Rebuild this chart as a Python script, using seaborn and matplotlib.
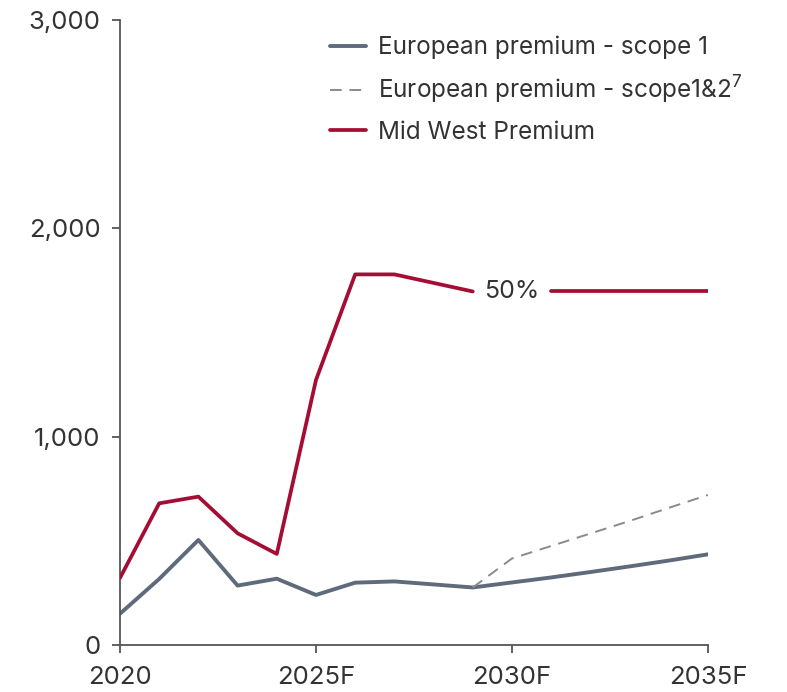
import matplotlib
matplotlib.use("Agg")
import matplotlib.pyplot as plt
import seaborn as sns
import pandas as pd

# ---- data ----
scope1_years = [2020, 2021, 2022, 2023, 2024, 2025, 2026, 2027, 2029, 2030, 2031, 2032, 2033, 2034, 2035]
scope1_vals = [150, 317, 504, 285, 318, 240, 299, 305, 276, 300, 324, 350, 377, 405, 435]

scope12_years = [2029, 2030, 2031, 2032, 2033, 2034, 2035]
scope12_vals = [276, 415, 475, 535, 595, 658, 720]

midwest_years_a = [2020, 2021, 2022, 2023, 2024, 2025, 2026, 2027, 2029]
midwest_vals_a = [322, 680, 712, 536, 437, 1272, 1779, 1779, 1697]
midwest_years_b = [2031, 2032, 2033, 2034, 2035]
midwest_vals_b = [1697, 1697, 1697, 1697, 1697]

x_ticks = [2020, 2025, 2030, 2035]
x_ticklabels = ["2020", "2025F", "2030F", "2035F"]
y_ticks = [0, 1000, 2000, 3000]
y_ticklabels = ["0", "1,000", "2,000", "3,000"]

label_s1 = "European premium - scope 1"
label_s12 = "European premium - scope1&2$^{7}$"
label_mw = "Mid West Premium"
annot = "50%"

# ---- style ----
sns.set_theme(style="white")
plt.rcParams["font.family"] = ["Inter", "DejaVu Sans"]
plt.rcParams["mathtext.fontset"] = "custom"
plt.rcParams["mathtext.rm"] = "Inter"
plt.rcParams["mathtext.default"] = "regular"

TEXT = "#333333"
AXC = "#555555"
RED = "#A50E34"
SLATE = "#5F6B7A"
GREY = "#8A8A8A"

fig = plt.figure(figsize=(7.87, 6.92), dpi=100)
ax = fig.add_axes([0.1525, 0.068, 0.747, 0.903])

df_s1 = pd.DataFrame({"year": scope1_years, "value": scope1_vals})
df_s12 = pd.DataFrame({"year": scope12_years, "value": scope12_vals})
df_mwa = pd.DataFrame({"year": midwest_years_a, "value": midwest_vals_a})
df_mwb = pd.DataFrame({"year": midwest_years_b, "value": midwest_vals_b})

sns.lineplot(data=df_mwa, x="year", y="value", ax=ax, color=RED, lw=2.7, label=label_mw, zorder=3)
sns.lineplot(data=df_mwb, x="year", y="value", ax=ax, color=RED, lw=2.7, label="_nolegend_", zorder=3)
sns.lineplot(data=df_s1, x="year", y="value", ax=ax, color=SLATE, lw=2.8, label=label_s1, zorder=2)
sns.lineplot(data=df_s12, x="year", y="value", ax=ax, color=GREY, lw=1.4, label=label_s12, zorder=4)
ax.lines[-1].set_dashes((6, 4))

ax.text(2030, 1697, annot, ha="center", va="center", fontsize=18, color=TEXT)

ax.set_xlim(2020, 2035)
ax.set_ylim(0, 3000)
ax.set_xticks(x_ticks)
ax.set_xticklabels(x_ticklabels)
ax.set_yticks(y_ticks)
ax.set_yticklabels(y_ticklabels)
ax.set_xlabel("")
ax.set_ylabel("")

for s in ["top", "right"]:
    ax.spines[s].set_visible(False)
for s in ["left", "bottom"]:
    ax.spines[s].set_color(AXC)
    ax.spines[s].set_linewidth(1.3)

ax.tick_params(axis="x", which="major", direction="out", length=6, width=1.3, color=AXC,
               labelsize=18.5, labelcolor=TEXT, pad=9, bottom=True)
ax.tick_params(axis="y", which="major", direction="out", length=6, width=1.3, color=AXC,
               labelsize=18.5, labelcolor=TEXT, pad=8, left=True)

h, l = ax.get_legend_handles_labels()
order = [l.index(label_s1), l.index(label_s12), l.index(label_mw)]
leg = ax.legend([h[i] for i in order], [l[i] for i in order], loc="upper left",
                bbox_to_anchor=(0.33, 1.0), frameon=False, fontsize=17.5,
                handlelength=1.5, handletextpad=0.5, labelspacing=0.6, borderaxespad=0.25)
for t in leg.get_texts():
    t.set_color(TEXT)

fig.savefig("out.png", dpi=100)
